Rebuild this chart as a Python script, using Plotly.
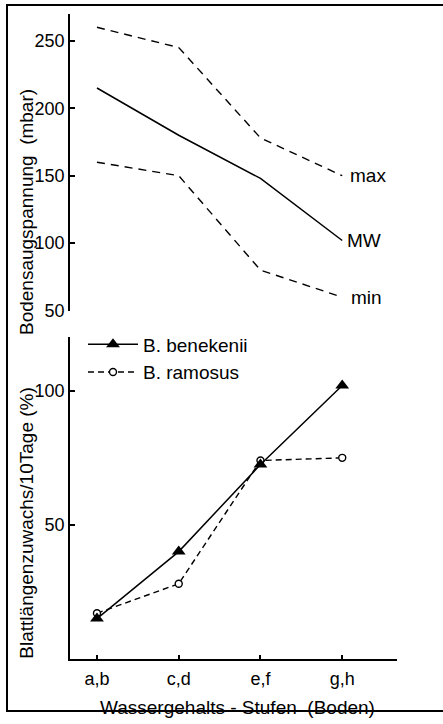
import plotly.graph_objects as go

W, H = 443, 724

categories = ["a,b", "c,d", "e,f", "g,h"]

# Top panel: Bodensaugspannung (mbar)
sp_max = [260, 245, 178, 150]
sp_mw = [215, 180, 148, 102]
sp_min = [160, 150, 80, 60]

# Bottom panel: Blattlängenzuwachs / 10 Tage (%)
benekenii = [15, 40, 72.5, 102]
ramosus = [17, 28, 74, 75]

top_ticks = [50, 100, 150, 200, 250, 270]
top_ticktext = ["50", "100", "150", "200", "250", ""]
bot_ticks = [50, 100, 120]
bot_ticktext = ["50", "100", ""]

FONT = "Liberation Sans"
fs_tick = 18
fs = 19

def px_x(p):
    return p / W

def px_y(p):
    return 1 - p / H

xdom = [px_x(70), px_x(397)]
xr = [-0.33, 3.67]

fig = go.Figure()

# top panel
fig.add_trace(go.Scatter(x=categories, y=sp_max, mode="lines", xaxis="x", yaxis="y",
                         line=dict(color="black", width=1.4, dash="8px,6px"), showlegend=False))
fig.add_trace(go.Scatter(x=categories, y=sp_mw, mode="lines", xaxis="x", yaxis="y",
                         line=dict(color="black", width=1.5), showlegend=False))
fig.add_trace(go.Scatter(x=categories, y=sp_min, mode="lines", xaxis="x", yaxis="y",
                         line=dict(color="black", width=1.4, dash="8px,6px"), showlegend=False))

# bottom panel
fig.add_trace(go.Scatter(x=categories, y=ramosus, mode="lines+markers", xaxis="x2", yaxis="y2",
                         name="B. ramosus",
                         line=dict(color="black", width=1.4, dash="6px,4px"),
                         marker=dict(symbol="circle", size=7, color="white",
                                     line=dict(color="black", width=1.4))))
fig.add_trace(go.Scatter(x=categories, y=benekenii, mode="lines+markers", xaxis="x2", yaxis="y2",
                         name="B. benekenii",
                         line=dict(color="black", width=1.5),
                         marker=dict(symbol="triangle-up", size=12, color="black")))

axis_common = dict(showline=True, linecolor="black", linewidth=1.5, showgrid=False,
                   zeroline=False, ticks="inside", tickcolor="black", tickwidth=1.5,
                   tickfont=dict(family=FONT, size=fs_tick, color="black"))

fig.update_layout(
    width=W, height=H,
    margin=dict(l=0, r=0, t=0, b=0),
    paper_bgcolor="white", plot_bgcolor="white",
    font=dict(family=FONT, size=fs, color="black"),
    xaxis=dict(domain=xdom, range=xr, visible=False, anchor="y", type="category"),
    yaxis=dict(domain=[px_y(315), px_y(14)], range=[50, 270], anchor="x",
               tickvals=top_ticks, ticktext=top_ticktext, ticklen=5, **axis_common),
    xaxis2=dict(domain=xdom, range=xr, anchor="y2", type="category",
                ticklen=4, ticklabelstandoff=3, **axis_common),
    yaxis2=dict(domain=[px_y(668), px_y(342)], range=[0, 120], anchor="x2",
                tickvals=bot_ticks, ticktext=bot_ticktext, ticklen=5, **axis_common),
    legend=dict(x=px_x(83), y=px_y(330), xanchor="left", yanchor="top",
                bgcolor="rgba(0,0,0,0)", traceorder="reversed",
                font=dict(family=FONT, size=fs, color="black"), itemwidth=50),
    showlegend=True,
)

# series labels at the end of the top lines
for vals, txt, sh in [(sp_max, "max", 6), (sp_mw, "MW", 3), (sp_min, "min", 7)]:
    fig.add_annotation(x=categories[-1], y=vals[-1], xref="x", yref="y", text=txt,
                       showarrow=False, xanchor="left", yanchor="middle", xshift=sh,
                       font=dict(family=FONT, size=fs, color="black"))

# axis titles
fig.add_annotation(x=px_x(26), y=px_y(215), xref="paper", yref="paper",
                   text="Bodensaugspannung  (mbar)", textangle=-90, showarrow=False,
                   xanchor="center", yanchor="middle",
                   font=dict(family=FONT, size=fs, color="black"))
fig.add_annotation(x=px_x(27), y=px_y(531), xref="paper", yref="paper",
                   text="Blattlängenzuwachs/10Tage (%)", textangle=-90, showarrow=False,
                   xanchor="center", yanchor="middle",
                   font=dict(family=FONT, size=fs, color="black"))
fig.add_annotation(x=px_x(237), y=px_y(717), xref="paper", yref="paper",
                   text="Wassergehalts - Stufen  (Boden)", showarrow=False,
                   xanchor="center", yanchor="middle",
                   font=dict(family=FONT, size=fs, color="black"))

# outer frame
fig.add_shape(type="rect", xref="paper", yref="paper",
              x0=px_x(7), x1=1.02, y0=px_y(721), y1=px_y(5),
              line=dict(color="black", width=2))

fig.write_html("out.html")
